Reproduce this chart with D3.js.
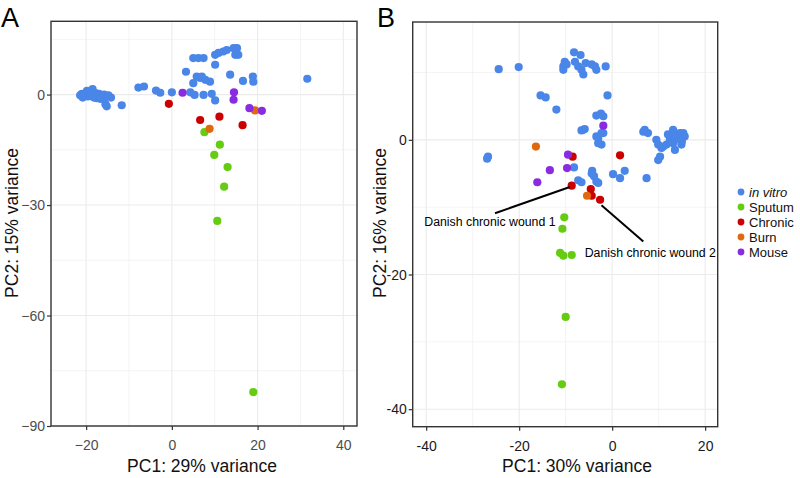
<!DOCTYPE html>
<html><head><meta charset="utf-8">
<script src="https://cdn.jsdelivr.net/npm/d3@7"></script>
<style>
html,body{margin:0;padding:0;background:#fff;}
svg{display:block;font-family:"Liberation Sans",Arial,Helvetica,sans-serif;}
</style></head>
<body>
<svg id="chart" width="800" height="478"></svg>
<script>
// ---------- DATA ----------
const groups = ["in vitro", "Sputum", "Chronic", "Burn", "Mouse"];

// Panel A (PC1 29%, PC2 15%)
const aInVitro = [
  [-21.0,0.2],[-20.5,-0.3],[-20.0,0.5],[-19.6,-0.5],[-19.2,0.8],[-18.8,0.0],[-18.5,1.5],[-18.2,-0.8],
  [-17.8,0.4],[-17.5,-1.0],[-17.0,0.2],[-16.6,-1.2],[-16.2,-0.4],[-15.8,0.0],[-15.3,-0.6],[-14.8,-0.2],
  [-14.2,-0.8],[-15.5,-2.6],[-15.2,-3.2],[-11.7,-2.9],[-20.8,-0.8],[-19.8,1.0],[-21.4,-0.2],[-16.7,-0.5],
  [-7.8,1.9],[-6.5,2.2],[-3.7,1.1],[-2.7,0.5],[0.0,0.6],
  [4.3,0.6],[5.3,-0.1],[7.4,-0.1],[9.3,0.2],[10.1,-1.6],
  [3.3,6.2],[5.0,9.9],[6.2,9.9],[7.4,9.9],
  [10.1,10.8],[10.9,11.3],[12.0,11.7],[12.8,12.1],[14.4,12.6],[15.2,12.6],[14.8,10.8],[15.5,10.8],
  [10.1,8.1],[5.8,4.9],[6.6,4.5],[7.8,4.0],[8.9,3.5],[5.0,3.1],[7.0,4.9],
  [13.6,5.4],[16.6,3.7],[18.9,4.9],[19.0,3.5],[31.6,4.3]
];
const aSputum = [[7.6,-10.2],[11.2,-13.6],[9.9,-16.4],[13.0,-19.7],[12.2,-25.0],[10.6,-34.3],[19.0,-80.8]];
const aChronic = [[-0.7,-2.5],[6.6,-6.9],[11.1,-6.0],[16.5,-8.3]];
const aBurn = [[8.8,-9.3],[19.4,-4.3]];
const aMouse = [[2.5,0.5],[14.5,0.6],[14.4,-1.4],[18.1,-3.7],[21.0,-4.4]];

// Panel B (PC1 30%, PC2 16%)
const bInVitro = [
  [-24.4,10.5],[-20.1,10.8],
  [-8.2,13.0],[-6.8,12.6],[-10.2,11.6],[-10.5,10.9],[-10.5,10.4],[-9.8,11.2],
  [-8.0,11.6],[-7.3,10.9],[-6.6,10.4],[-6.2,9.7],[-5.7,11.4],[-4.4,11.2],[-3.7,10.9],[-3.4,10.4],[-1.4,10.9],
  [-15.4,6.6],[-14.3,6.3],[-12.0,4.5],[-1.0,6.6],
  [-3.4,3.6],[-2.4,3.9],[-1.9,3.5],
  [-6.6,1.4],[-5.9,1.6],[-6.2,1.5],[-3.4,0.5],[-2.3,1.0],[-3.0,-0.5],[-2.3,-0.7],[-3.0,0.25],[-1.9,1.0],
  [-26.7,-2.5],[-26.9,-2.8],
  [6.7,1.2],[7.0,1.5],[7.7,1.0],[9.5,0.0],[10.6,-1.2],[10.3,-2.5],[9.9,-3.0],[13.1,1.5],[14.6,1.0],
  [15.6,0.5],[13.1,-0.5],[12.4,0.0],[11.7,-0.7],[13.5,-1.5],[14.9,-0.7],[14.6,0.0],[13.8,0.5],
  [12.8,0.7],[11.0,-1.0],[9.9,-0.7],[13.5,1.0],[15.3,1.0],[15.0,-0.2],[12.0,0.8],
  [-8.2,-4.1],[-7.3,-6.0],[-6.6,-6.3],[-4.4,-5.0],[-3.9,-5.4],[-3.4,-6.2],[-3.0,-6.4],[-4.3,-4.6],
  [0.2,-5.1],[1.7,-5.7],[2.7,-4.6],[7.4,-5.7]
];
const bSputum = [[-10.3,-11.5],[-10.7,-13.2],[-11.2,-16.8],[-10.5,-17.2],[-8.7,-17.1],[-10.0,-26.3],[-10.8,-36.3]];
const bChronic = [[-8.5,-2.5],[1.7,-2.3],[-8.7,-6.8],[-4.6,-7.3],[-4.4,-8.3],[-2.6,-8.9]];
const bBurn = [[-16.4,-1.0],[-5.4,-8.3]];
const bMouse = [[-1.9,2.1],[-9.5,-2.2],[-13.4,-4.5],[-9.7,-4.2],[-16.1,-6.3]];

// Tick values
const aXTicks = [-20, 0, 20, 40];
const aYTicks = [-90, -60, -30, 0];
const bXTicks = [-40, -20, 0, 20];
const bYTicks = [-40, -20, 0];

// Annotations (panel B, data coordinates)
const annLabels = ["Danish chronic wound 1", "Danish chronic wound 2"];
const annTextPos = [[-40.4,-12.1],[-5.9,-16.7]];
const annLineFrom = [[-25.2,-10.9],[-2.3,-9.7]];
const annLineTo = [[-9.1,-7.0],[6.7,-15.1]];

// ---------- STYLE ----------
const colors = ["#4a86e8", "#66cc11", "#cc0000", "#e0690d", "#8a2be2"];
const svg = d3.select("#chart");

function panel(cfg) {
  const {x, y, xTicks, yTicks, xMinor, yMinor, series, minusSign, tickColor, xTitle, yTitle, xTitleX, yTitleX, letter, letterX} = cfg;
  const g = svg.append("g");
  const [x0, x1] = x.range(), [y0, y1] = y.range();
  // grid
  g.selectAll(".gmx").data(xMinor).join("line")
    .attr("x1", d => x(d)).attr("x2", d => x(d)).attr("y1", y1).attr("y2", y0)
    .attr("stroke", "#ededed").attr("stroke-width", 0.6);
  g.selectAll(".gmy").data(yMinor).join("line")
    .attr("y1", d => y(d)).attr("y2", d => y(d)).attr("x1", x0).attr("x2", x1)
    .attr("stroke", "#ededed").attr("stroke-width", 0.6);
  g.selectAll(".gx").data(xTicks).join("line")
    .attr("x1", d => x(d)).attr("x2", d => x(d)).attr("y1", y1).attr("y2", y0)
    .attr("stroke", "#ebebeb").attr("stroke-width", 1.1);
  g.selectAll(".gy").data(yTicks).join("line")
    .attr("y1", d => y(d)).attr("y2", d => y(d)).attr("x1", x0).attr("x2", x1)
    .attr("stroke", "#ebebeb").attr("stroke-width", 1.1);
  // points
  series.forEach((pts, i) => {
    g.append("g").selectAll("circle").data(pts).join("circle")
      .attr("cx", d => x(d[0])).attr("cy", d => y(d[1])).attr("r", 4.1)
      .attr("fill", colors[i]);
  });
  const fmt = d => (d < 0 ? (minusSign ? "\u2212" : "-") + Math.abs(d) : String(d));
  // axes
  const xa = g.append("g").attr("transform", `translate(0,${y0})`)
    .call(d3.axisBottom(x).tickValues(xTicks).tickFormat(fmt).tickSize(4).tickSizeOuter(0).tickPadding(10));
  const ya = g.append("g").attr("transform", `translate(${x0},0)`)
    .call(d3.axisLeft(y).tickValues(yTicks).tickFormat(fmt).tickSize(4).tickSizeOuter(0).tickPadding(2));
  [xa, ya].forEach(a => {
    a.select(".domain").remove();
    a.selectAll(".tick line").attr("stroke", "#333").attr("stroke-width", 1.2);
    a.selectAll(".tick text").attr("fill", tickColor).style("font-size", "14px")
      .style("font-family", '"Liberation Sans",Arial,sans-serif');
  });
  // frame
  g.append("rect").attr("x", x0).attr("y", y1).attr("width", x1 - x0).attr("height", y0 - y1)
    .attr("fill", "none").attr("stroke", "#333").attr("stroke-width", 1.4);
  // titles
  g.append("text").attr("x", xTitleX).attr("y", 472).attr("text-anchor", "middle")
    .style("font-size", "17.5px").attr("fill", "#111").text(xTitle);
  g.append("text").attr("transform", `translate(${yTitleX},223) rotate(-90)`).attr("text-anchor", "middle")
    .style("font-size", "17.5px").attr("fill", "#111").text(yTitle);
  svg.append("text").attr("x", letterX).attr("y", 27).style("font-size", "27px").attr("fill", "#000").text(letter);
  return g;
}

// Panel A
const axA = d3.scaleLinear().domain([-28.2, 43.2]).range([51, 357]);
const ayA = d3.scaleLinear().domain([-90, 19.9]).range([426, 21.3]);
panel({
  x: axA, y: ayA, xTicks: aXTicks, yTicks: aYTicks,
  xMinor: [-10, 10, 30], yMinor: [-75, -45, -15, 15],
  series: [aInVitro, aSputum, aChronic, aBurn, aMouse],
  minusSign: true, tickColor: "#4d4d4d",
  xTitle: "PC1: 29% variance", yTitle: "PC2: 15% variance", xTitleX: 202, yTitleX: 18,
  letter: "A", letterX: 1
});

// Panel B
const axB = d3.scaleLinear().domain([-42.9, 22.7]).range([412.7, 717.7]);
const ayB = d3.scaleLinear().domain([-42.6, 17.5]).range([426.7, 22]);
const gB = panel({
  x: axB, y: ayB, xTicks: bXTicks, yTicks: bYTicks,
  xMinor: [-30, -10, 10], yMinor: [-30, -10, 10],
  series: [bInVitro, bSputum, bChronic, bBurn, bMouse],
  minusSign: false, tickColor: "#1a1a1a",
  xTitle: "PC1: 30% variance", yTitle: "PC2: 16% variance", xTitleX: 577, yTitleX: 386,
  letter: "B", letterX: 377
});

// annotations
annLabels.forEach((lab, i) => {
  gB.append("line")
    .attr("x1", axB(annLineFrom[i][0])).attr("y1", ayB(annLineFrom[i][1]))
    .attr("x2", axB(annLineTo[i][0])).attr("y2", ayB(annLineTo[i][1]))
    .attr("stroke", "#000").attr("stroke-width", 2);
  gB.append("text").attr("x", axB(annTextPos[i][0])).attr("y", ayB(annTextPos[i][1]))
    .attr("dy", "0.35em").style("font-size", "12.3px").attr("fill", "#000").text(lab);
});

// legend
const leg = svg.append("g");
groups.forEach((grp, i) => {
  const yy = 192 + i * 15;
  leg.append("circle").attr("cx", 741).attr("cy", yy).attr("r", 3.4).attr("fill", colors[i]);
  leg.append("text").attr("x", 749).attr("y", yy).attr("dy", "0.36em")
    .style("font-size", "13px").style("font-style", i === 0 ? "italic" : "normal")
    .attr("fill", "#111").text(grp);
});
</script>
</body></html>
